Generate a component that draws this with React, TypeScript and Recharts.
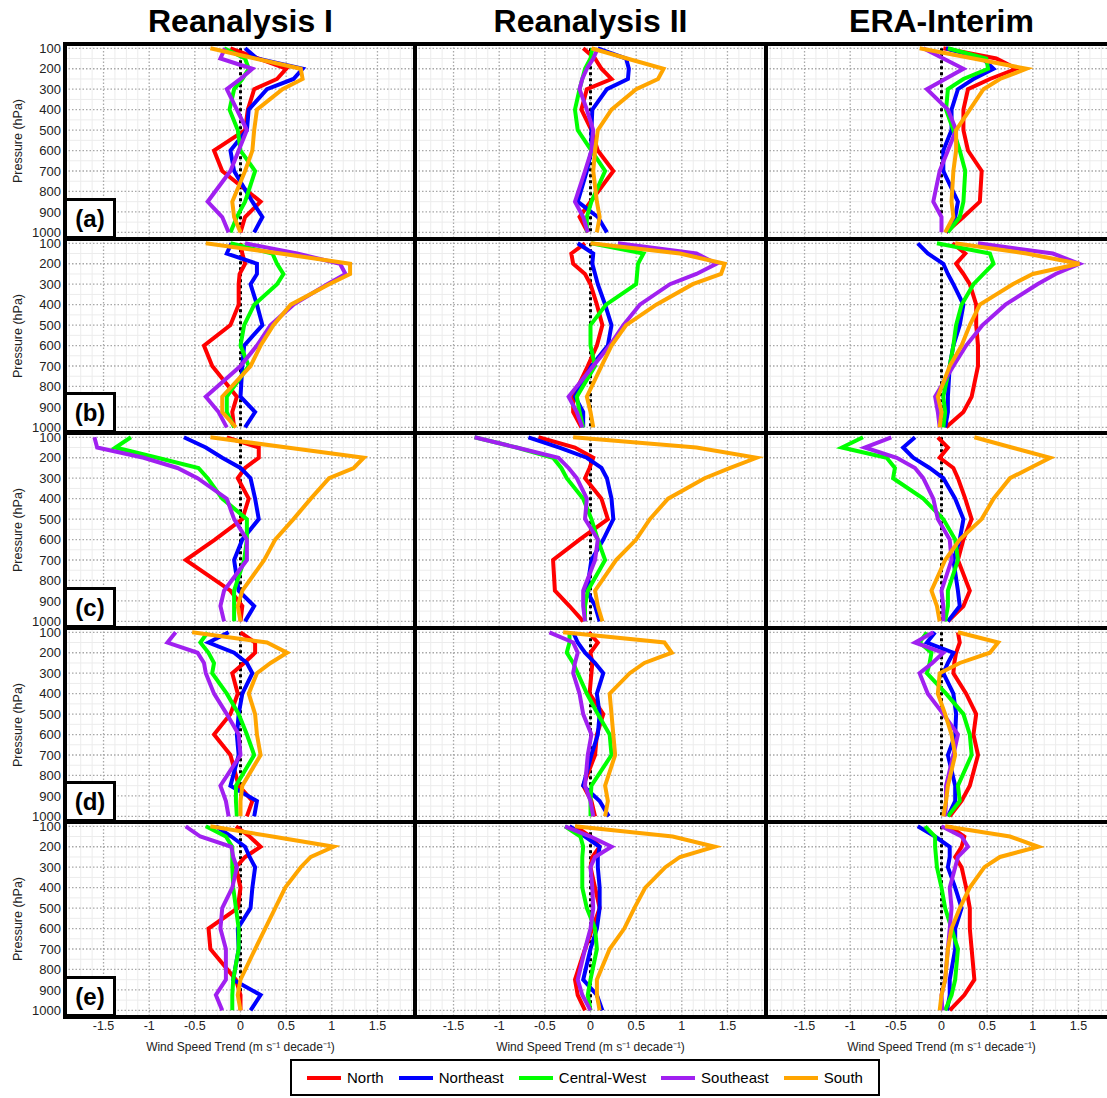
import { CartesianGrid, ReferenceLine, Scatter, ScatterChart, XAxis, YAxis } from 'recharts';

const LEVELS = [100, 150, 200, 250, 300, 400, 500, 600, 700, 850, 925, 1000];
const REGIONS = ['North', 'Northeast', 'Central-West', 'Southeast', 'South'];
const COLORS = ['#ff0000', '#0000ff', '#00ff00', '#a020f0', '#ffa500'];
const DATASETS = ['Reanalysis I', 'Reanalysis II', 'ERA-Interim'];
const PANEL_LABELS = ['(a)', '(b)', '(c)', '(d)', '(e)'];
const X_TICKS = [-1.5, -1, -0.5, 0, 0.5, 1, 1.5];
const Y_TICKS = [100, 200, 300, 400, 500, 600, 700, 800, 900, 1000];
const X_MINOR = [-1.875, -1.75, -1.625, -1.375, -1.25, -1.125, -0.875, -0.75, -0.625, -0.375, -0.25, -0.125,
    0.125, 0.25, 0.375, 0.625, 0.75, 0.875, 1.125, 1.25, 1.375, 1.625, 1.75, 1.875];
const Y_MINOR = [150, 250, 350, 450, 550, 650, 750, 850, 950];

// rows: North, Northeast, Central-West, Southeast, South (values at LEVELS)
const R1_A = [
    [-0.11, 0.2, 0.5, 0.4, 0.15, 0.08, 0.05, -0.29, -0.2, 0.22, 0.05, 0.0],
    [0.05, 0.18, 0.68, 0.58, 0.29, 0.09, 0.07, -0.11, -0.07, 0.13, 0.24, 0.15],
    [-0.18, 0.05, 0.09, 0.02, -0.07, -0.12, -0.03, 0.0, 0.16, 0.05, -0.04, -0.11],
    [-0.17, -0.22, 0.13, 0.0, -0.15, -0.04, 0.07, -0.02, -0.11, -0.36, -0.2, -0.13],
    [-0.33, 0.16, 0.66, 0.68, 0.46, 0.18, 0.15, 0.13, 0.05, -0.09, -0.07, 0.0],
];
const R2_A = [
    [-0.08, 0.05, 0.12, 0.23, -0.04, -0.1, 0.01, 0.08, 0.25, 0.0, -0.12, -0.03],
    [0.08, 0.39, 0.42, 0.41, 0.18, 0.02, 0.01, 0.01, -0.04, -0.14, 0.08, 0.18],
    [0.02, 0.0, -0.06, -0.09, -0.12, -0.17, -0.14, 0.01, 0.16, 0.01, -0.04, -0.04],
    [0.08, 0.03, -0.04, -0.09, -0.12, -0.04, 0.03, 0.01, -0.06, -0.17, -0.08, -0.03],
    [0.01, 0.4, 0.8, 0.74, 0.5, 0.23, 0.08, 0.05, 0.03, 0.07, 0.1, 0.07],
];
const ERA_A = [
    [0.02, 0.6, 0.82, 0.53, 0.29, 0.24, 0.24, 0.29, 0.44, 0.42, 0.24, 0.05],
    [0.05, 0.45, 0.57, 0.35, 0.18, 0.11, 0.11, 0.02, 0.02, 0.18, 0.15, 0.05],
    [0.07, 0.49, 0.51, 0.24, 0.07, 0.05, 0.13, 0.2, 0.26, 0.24, 0.2, 0.07],
    [-0.2, 0.02, 0.24, 0.04, -0.16, 0.07, 0.16, 0.07, -0.02, -0.09, 0.0, 0.0],
    [-0.24, 0.35, 0.93, 0.64, 0.46, 0.31, 0.16, 0.16, 0.13, 0.11, 0.13, 0.04],
];

const R1_B = [
    [0.0, 0.02, 0.05, -0.01, -0.02, -0.02, -0.11, -0.4, -0.31, -0.04, -0.09, -0.07],
    [-0.1, -0.15, 0.18, 0.18, 0.11, 0.18, 0.24, 0.04, 0.02, 0.0, 0.16, 0.05],
    [-0.11, 0.35, 0.4, 0.47, 0.4, 0.15, 0.04, 0.0, 0.09, -0.15, -0.15, -0.07],
    [0.05, 0.62, 1.09, 1.15, 0.95, 0.58, 0.33, 0.18, 0.0, -0.38, -0.24, -0.15],
    [-0.38, 0.44, 1.2, 1.2, 0.97, 0.55, 0.36, 0.22, 0.11, -0.2, -0.2, -0.05],
];
const R2_B = [
    [-0.06, -0.21, -0.19, -0.06, 0.0, 0.07, 0.13, 0.07, -0.03, -0.19, -0.19, -0.1],
    [-0.14, 0.03, 0.02, 0.05, 0.08, 0.16, 0.23, 0.19, 0.01, -0.17, -0.08, -0.08],
    [0.01, 0.58, 0.52, 0.51, 0.5, 0.17, 0.0, 0.0, 0.05, -0.15, -0.12, -0.08],
    [0.3, 1.16, 1.38, 1.16, 0.87, 0.54, 0.36, 0.21, 0.03, -0.24, -0.15, -0.09],
    [0.0, 0.98, 1.47, 1.43, 1.12, 0.72, 0.39, 0.23, 0.12, -0.04, 0.0, 0.03],
];
const ERA_B = [
    [0.12, 0.26, 0.16, 0.24, 0.31, 0.38, 0.38, 0.4, 0.4, 0.33, 0.24, 0.05],
    [-0.26, -0.15, 0.02, 0.07, 0.13, 0.24, 0.2, 0.13, 0.09, 0.07, 0.07, 0.04],
    [-0.05, 0.53, 0.57, 0.46, 0.35, 0.22, 0.16, 0.13, 0.09, 0.02, 0.04, 0.02],
    [0.4, 1.22, 1.51, 1.25, 1.05, 0.7, 0.45, 0.27, 0.13, -0.07, -0.04, -0.02],
    [0.15, 0.93, 1.51, 1.0, 0.78, 0.42, 0.31, 0.22, 0.09, -0.04, 0.0, -0.02],
];

const R1_C = [
    [-0.15, 0.2, 0.2, 0.05, -0.03, 0.09, 0.02, -0.28, -0.6, -0.11, 0.02, 0.0],
    [-0.62, -0.38, -0.2, 0.0, 0.11, 0.16, 0.2, 0.02, -0.07, -0.02, 0.15, 0.05],
    [-1.2, -1.37, -0.91, -0.46, -0.36, -0.2, 0.07, 0.07, 0.04, -0.07, -0.07, -0.07],
    [-1.6, -1.57, -1.06, -0.69, -0.47, -0.15, -0.07, 0.07, 0.07, -0.18, -0.22, -0.18],
    [-0.33, 0.51, 1.35, 1.24, 0.97, 0.77, 0.58, 0.38, 0.26, 0.02, -0.03, 0.0],
];
const R2_C = [
    [-0.57, -0.17, 0.03, -0.01, -0.06, 0.12, 0.19, -0.12, -0.41, -0.39, -0.23, -0.08],
    [-0.68, -0.34, -0.04, 0.12, 0.18, 0.23, 0.25, 0.14, 0.01, -0.04, 0.05, 0.1],
    [-1.27, -0.81, -0.41, -0.32, -0.26, -0.08, 0.01, 0.08, 0.16, -0.03, -0.06, -0.06],
    [-1.27, -0.81, -0.35, -0.24, -0.15, -0.04, -0.06, 0.08, 0.05, -0.08, -0.08, -0.06],
    [-0.19, 1.16, 1.82, 1.53, 1.25, 0.85, 0.65, 0.5, 0.28, 0.05, 0.08, 0.13],
];
const ERA_C = [
    [-0.04, 0.07, -0.02, 0.13, 0.18, 0.26, 0.33, 0.24, 0.18, 0.31, 0.24, 0.07],
    [-0.29, -0.42, -0.31, -0.13, 0.02, 0.15, 0.24, 0.2, 0.13, 0.18, 0.2, 0.07],
    [-0.86, -1.09, -0.6, -0.51, -0.53, -0.2, 0.02, 0.15, 0.18, 0.07, 0.07, 0.04],
    [-0.55, -0.84, -0.49, -0.29, -0.2, -0.09, -0.04, 0.09, 0.11, 0.0, 0.02, 0.02],
    [0.36, 0.77, 1.19, 0.97, 0.75, 0.57, 0.44, 0.2, 0.04, -0.11, -0.05, -0.02],
];

const R1_D = [
    [0.0, 0.16, 0.16, 0.04, -0.09, -0.03, -0.11, -0.29, -0.11, -0.02, 0.13, 0.07],
    [-0.13, -0.35, -0.07, 0.07, 0.13, 0.02, -0.02, -0.04, -0.02, -0.11, 0.18, 0.15],
    [-0.36, -0.44, -0.35, -0.29, -0.31, -0.15, -0.02, 0.07, 0.15, -0.05, -0.05, -0.04],
    [-0.71, -0.8, -0.47, -0.4, -0.38, -0.29, -0.15, -0.02, 0.0, -0.22, -0.16, -0.13],
    [-0.53, 0.29, 0.51, 0.33, 0.18, 0.09, 0.16, 0.18, 0.22, 0.02, 0.0, 0.0],
];
const R2_D = [
    [-0.02, 0.08, 0.0, 0.02, 0.01, -0.01, 0.14, 0.07, 0.05, -0.08, 0.01, 0.05],
    [-0.19, -0.14, -0.06, 0.05, 0.14, 0.07, 0.1, 0.08, 0.01, -0.08, 0.1, 0.2],
    [-0.23, -0.23, -0.26, -0.19, -0.14, -0.04, 0.08, 0.21, 0.23, 0.01, 0.0, 0.0],
    [-0.45, -0.19, -0.14, -0.17, -0.19, -0.12, -0.08, 0.01, -0.03, -0.06, 0.0, 0.03],
    [-0.3, 0.81, 0.89, 0.59, 0.43, 0.21, 0.23, 0.25, 0.27, 0.16, 0.19, 0.16],
];
const ERA_D = [
    [0.18, 0.2, 0.16, 0.14, 0.13, 0.27, 0.38, 0.35, 0.4, 0.31, 0.22, 0.09],
    [-0.07, -0.16, 0.13, 0.07, 0.02, 0.13, 0.16, 0.15, 0.07, 0.15, 0.15, 0.07],
    [-0.16, -0.24, -0.11, -0.13, -0.16, 0.05, 0.24, 0.31, 0.33, 0.18, 0.2, 0.07],
    [-0.09, -0.29, 0.02, -0.1, -0.24, -0.15, 0.02, 0.18, 0.13, 0.05, 0.05, 0.04],
    [0.18, 0.62, 0.53, 0.2, -0.02, -0.04, 0.04, 0.11, 0.15, 0.07, 0.05, 0.02],
];

const R1_E = [
    [-0.05, 0.1, 0.22, 0.05, -0.05, 0.0, -0.03, -0.35, -0.33, -0.05, 0.0, 0.0],
    [-0.27, -0.1, 0.05, 0.1, 0.16, 0.13, 0.11, -0.03, -0.02, -0.08, 0.22, 0.11],
    [-0.38, -0.16, -0.09, -0.09, -0.09, -0.08, -0.05, -0.02, -0.02, -0.08, -0.09, -0.09],
    [-0.6, -0.44, -0.1, -0.08, -0.04, -0.09, -0.2, -0.22, -0.16, -0.16, -0.27, -0.2],
    [-0.33, 0.35, 1.02, 0.77, 0.66, 0.49, 0.38, 0.27, 0.16, 0.0, -0.03, 0.0],
];
const R2_E = [
    [-0.17, 0.0, 0.1, 0.02, 0.0, 0.05, 0.1, 0.02, -0.06, -0.17, -0.14, -0.06],
    [-0.23, -0.06, 0.1, 0.08, 0.08, 0.1, 0.1, 0.07, 0.0, -0.08, 0.07, 0.13],
    [-0.28, -0.11, -0.08, -0.09, -0.09, -0.09, -0.04, 0.05, 0.07, 0.0, -0.03, 0.0],
    [-0.28, 0.0, 0.23, 0.05, 0.0, 0.02, 0.03, 0.0, -0.06, -0.14, -0.09, 0.0],
    [-0.17, 0.9, 1.36, 0.98, 0.82, 0.6, 0.48, 0.37, 0.21, 0.07, 0.07, 0.1],
];
const ERA_E = [
    [0.09, 0.25, 0.22, 0.15, 0.22, 0.27, 0.31, 0.31, 0.33, 0.36, 0.25, 0.09],
    [-0.26, -0.07, 0.09, 0.09, 0.07, 0.15, 0.22, 0.15, 0.15, 0.09, 0.09, 0.06],
    [-0.18, -0.07, -0.07, -0.06, -0.05, 0.0, 0.04, 0.11, 0.18, 0.15, 0.11, 0.04],
    [0.0, 0.22, 0.29, 0.18, 0.15, 0.09, 0.11, 0.09, 0.07, 0.04, 0.0, 0.01],
    [0.04, 0.75, 1.06, 0.64, 0.47, 0.31, 0.2, 0.11, 0.07, 0.04, 0.0, -0.02],
];

const PANELS = [
    [R1_A, R2_A, ERA_A],
    [R1_B, R2_B, ERA_B],
    [R1_C, R2_C, ERA_C],
    [R1_D, R2_D, ERA_D],
    [R1_E, R2_E, ERA_E],
];

const COL_X = [65, 415, 766];
const ROW_Y = [44, 238.5, 433, 627.5, 822];
const PLOT_W = 351;
const PLOT_H = 194.5;
const Y_AXIS_W = 65;
const X_AXIS_H = 45;
const X_DOMAIN = [-1.922, 1.922];
const Y_DOMAIN = [79, 1030];
const FONT = '"Liberation Sans", Arial, sans-serif';

const Panel = ({ values, row, col }: any) => {
    const showY = col === 0;
    const showX = row === 4;
    const w = PLOT_W + (showY ? Y_AXIS_W : 0);
    const h = PLOT_H + (showX ? X_AXIS_H : 0);

    return (
        <div style={{ position: 'absolute', left: COL_X[col] - (showY ? Y_AXIS_W : 0), top: ROW_Y[row], zIndex: showY ? 2 : 1 }}>
            <ScatterChart width={w} height={h} margin={{ top: 0, right: 0, bottom: 0, left: 0 }}>
                <CartesianGrid horizontalValues={Y_MINOR} verticalValues={X_MINOR} stroke="#ececec" strokeWidth={1} />
                <CartesianGrid horizontalValues={Y_TICKS} verticalValues={X_TICKS} stroke="#a8a8a8" strokeWidth={1.3} strokeDasharray="1.5 2" />
                <XAxis
                    type="number"
                    dataKey="x"
                    domain={X_DOMAIN}
                    allowDataOverflow
                    ticks={X_TICKS}
                    interval={0}
                    hide={!showX}
                    height={X_AXIS_H}
                    tickLine={false}
                    axisLine={false}
                    tickSize={0}
                    tickMargin={5}
                    tick={{ fontSize: 12.5, fill: '#222', fontFamily: FONT }}
                />
                <YAxis
                    type="number"
                    dataKey="p"
                    domain={Y_DOMAIN}
                    reversed
                    allowDataOverflow
                    ticks={Y_TICKS}
                    interval={0}
                    hide={!showY}
                    width={Y_AXIS_W}
                    tickLine={false}
                    axisLine={false}
                    tickSize={0}
                    tickMargin={4}
                    tick={{ fontSize: 13, fill: '#222', fontFamily: FONT }}
                />
                <ReferenceLine
                    segment={[{ x: 0, y: 100 }, { x: 0, y: 1000 }]}
                    stroke="#000"
                    strokeWidth={3}
                    strokeDasharray="3 3"
                />
                {values.map((vals: number[], i: number) => (
                    <Scatter
                        key={REGIONS[i]}
                        name={REGIONS[i]}
                        data={LEVELS.map((p, k) => ({ x: vals[k], p }))}
                        fill={COLORS[i]}
                        line={{ strokeWidth: 4, strokeLinejoin: 'miter' }}
                        shape={() => <g />}
                        isAnimationActive={false}
                    />
                ))}
            </ScatterChart>
        </div>
    );
};

const App = () => {
    const bottom = ROW_Y[4] + PLOT_H;
    const hLines = [...ROW_Y, bottom];
    const vLines = [...COL_X, COL_X[2] + PLOT_W];

    return (
        <div style={{ position: 'absolute', left: 0, top: 0, width: 1107, height: 1098, overflow: 'hidden', background: '#fff', fontFamily: FONT, color: '#000' }}>
            <style>{'svg.recharts-surface { overflow: visible; }'}</style>
            {DATASETS.map((name, c) => (
                <div key={name} style={{ position: 'absolute', left: COL_X[c], width: PLOT_W, top: 5, textAlign: 'center', fontSize: 32, fontWeight: 'bold', lineHeight: '32px' }}>
                    {name}
                </div>
            ))}

            {PANELS.map((rowVals, r) => rowVals.map((vals, c) => (
                <Panel key={`${r}-${c}`} values={vals} row={r} col={c} />
            )))}

            {hLines.map((y, i) => (
                <div key={`h${i}`} style={{ position: 'absolute', zIndex: 3, left: COL_X[0] - 2, width: 1107, top: y - 2, height: 4, background: '#000' }} />
            ))}
            {vLines.map((x, i) => (
                <div key={`v${i}`} style={{ position: 'absolute', zIndex: 3, left: x - 2, width: 4, top: ROW_Y[0] - 2, height: bottom - ROW_Y[0] + 4, background: '#000' }} />
            ))}

            {PANEL_LABELS.map((lab, r) => (
                <div key={lab} style={{
                    position: 'absolute', zIndex: 4, left: COL_X[0] - 1, top: ROW_Y[r] + PLOT_H - 41, width: 52, height: 41,
                    boxSizing: 'border-box', border: '3px solid #000', background: '#fff',
                    fontSize: 24, fontWeight: 'bold', lineHeight: '35px', textAlign: 'center',
                }}>
                    {lab}
                </div>
            ))}

            {ROW_Y.map((y, r) => (
                <div key={`yl${r}`} style={{
                    position: 'absolute', left: 18, top: y + PLOT_H / 2, fontSize: 12.5, whiteSpace: 'nowrap',
                    transform: 'translate(-50%, -50%) rotate(-90deg)', color: '#222',
                }}>
                    Pressure (hPa)
                </div>
            ))}

            {COL_X.map((x, c) => (
                <div key={`xl${c}`} style={{
                    position: 'absolute', left: x, width: PLOT_W, top: 1038, textAlign: 'center', fontSize: 12, color: '#222', whiteSpace: 'nowrap',
                }}>
                    Wind Speed Trend (m s⁻¹ decade⁻¹)
                </div>
            ))}

            <div style={{
                position: 'absolute', left: 290, top: 1059, width: 590, height: 37, boxSizing: 'border-box',
                border: '2px solid #000', display: 'flex', alignItems: 'center', justifyContent: 'space-evenly', fontSize: 15,
            }}>
                {REGIONS.map((name, i) => (
                    <div key={name} style={{ display: 'flex', alignItems: 'center' }}>
                        <span style={{ display: 'inline-block', width: 34, height: 4, background: COLORS[i], marginRight: 6 }} />
                        <span>{name}</span>
                    </div>
                ))}
            </div>
        </div>
    );
};

export default App;
